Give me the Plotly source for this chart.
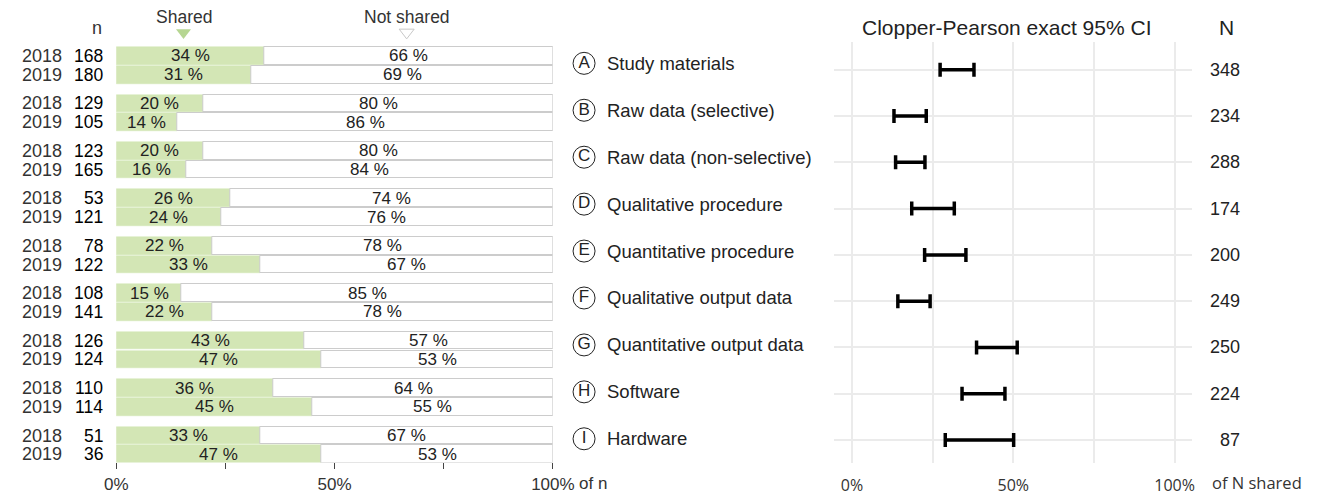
import plotly.graph_objects as go

W, H = 1335, 496

# ---------------- data ----------------
letters = ["A", "B", "C", "D", "E", "F", "G", "H", "I"]
categories = ["Study materials", "Raw data (selective)", "Raw data (non-selective)",
              "Qualitative procedure", "Quantitative procedure", "Qualitative output data",
              "Quantitative output data", "Software", "Hardware"]
years = ["2018", "2019"]
n_2018 = [168, 129, 123, 53, 78, 108, 126, 110, 51]
n_2019 = [180, 105, 165, 121, 122, 141, 124, 114, 36]
shared_2018 = [34, 20, 20, 26, 22, 15, 43, 36, 33]
shared_2019 = [31, 14, 16, 24, 33, 22, 47, 45, 47]
N_total = [348, 234, 288, 174, 200, 249, 250, 224, 87]
ci_low = [27.3, 13.0, 13.5, 18.5, 22.5, 14.2, 38.6, 34.1, 28.9]
ci_high = [37.8, 23.0, 22.6, 31.7, 35.3, 24.2, 51.2, 47.4, 50.1]
tick_vals = [0, 25, 50, 75, 100]
left_ticktext = ["0%", "", "50%", "", "100%"]
right_ticktext = ["0%", "", "50%", "", "100%"]

# ---------------- layout constants ----------------
FONT = "Liberation Sans"
GREEN = "#d3e6b5"
TXT = "#222222"
GROUP_GAP = 2.53         # units between pairs
UNIT_PX = 19.1           # px per unit on left chart
ROW0_PX = 57             # pixel of first bar centre
LEFT_X0, LEFT_X1 = 107, 555
LEFT_BOTTOM_PX = 471

ypos, shared, nvals, ylab = [], [], [], []
for g in range(len(letters)):
    for j, (s, n) in enumerate([(shared_2018[g], n_2018[g]), (shared_2019[g], n_2019[g])]):
        ypos.append(g * GROUP_GAP + j)
        shared.append(s)
        nvals.append(n)
        ylab.append(years[j])
not_shared = [100 - s for s in shared]

fig = go.Figure()

fig.add_trace(go.Bar(
    y=ypos, x=shared, orientation="h", width=0.94,
    marker=dict(color=GREEN, line=dict(color=GREEN, width=0.5)),
    xaxis="x", yaxis="y", showlegend=False, hoverinfo="skip"))
fig.add_trace(go.Bar(
    y=ypos, x=not_shared, orientation="h", width=0.94, base=shared,
    marker=dict(color="white", line=dict(color="#cccccc", width=1)),
    xaxis="x", yaxis="y", showlegend=False, hoverinfo="skip"))

# legend triangles (x in % units of the left axis)
SH_X = (176 - LEFT_X0) / (LEFT_X1 - LEFT_X0) * 100
NS_X = (405 - LEFT_X0) / (LEFT_X1 - LEFT_X0) * 100
TRI_Y = (33 - ROW0_PX) / UNIT_PX
fig.add_trace(go.Scatter(
    x=[SH_X], y=[TRI_Y], mode="markers", xaxis="x", yaxis="y",
    marker=dict(symbol="triangle-down", size=13, color="#b6d692"),
    showlegend=False, hoverinfo="skip", cliponaxis=False))
fig.add_trace(go.Scatter(
    x=[NS_X], y=[TRI_Y], mode="markers", xaxis="x", yaxis="y",
    marker=dict(symbol="triangle-down-open", size=13, color="#c8c8c8", line=dict(width=1)),
    showlegend=False, hoverinfo="skip", cliponaxis=False))


def ann(x, y, text, xref="paper", yref="paper", size=18, color=TXT, xanchor="center",
        family=FONT):
    return dict(x=x, y=y, xref=xref, yref=yref, text=text, showarrow=False,
                xanchor=xanchor, yanchor="middle",
                font=dict(family=family, size=size, color=color))


annotations = []
for y, s, ns, n, yl in zip(ypos, shared, not_shared, nvals, ylab):
    annotations.append(ann(s / 2, y, f"{s} %", "x", "y", 17))
    annotations.append(ann(s + ns / 2, y, f"{ns} %", "x", "y", 17))
    annotations.append(ann(53.5 / W, y, yl, "paper", "y", 18, "#333333", "right"))
    annotations.append(ann(95.5 / W, y, str(n), "paper", "y", 17.5, "#000000", "right"))

annotations += [
    ann(SH_X, 1 - 17 / H, "Shared", "x", "paper", 17.5, "#333333"),
    ann(NS_X, 1 - 17 / H, "Not shared", "x", "paper", 17.5, "#333333"),
    ann(87 / W, 1 - 29 / H, "n", size=18, color="#333333"),
    ann(580 / W, (H - 492) / H, "of n", size=17, color="#333333", xanchor="left"),
]

# middle: circled letters + category names
M_ROW0, M_STEP = 64.5, 47.8
fig.add_trace(go.Scatter(
    x=[0] * len(letters), y=list(range(len(letters))), mode="markers+text",
    text=letters, textposition="middle center",
    textfont=dict(family=FONT, size=17, color=TXT),
    marker=dict(symbol="circle-open", size=22, color="#222222", line=dict(width=1)),
    xaxis="x3", yaxis="y3", showlegend=False, hoverinfo="skip", cliponaxis=False))
for r, c in enumerate(categories):
    annotations.append(ann(608 / W, r, c, "paper", "y3", 18.5, TXT, "left"))

# right: CI error bars
mid = [(lo + hi) / 2 for lo, hi in zip(ci_low, ci_high)]
half = [(hi - lo) / 2 for lo, hi in zip(ci_low, ci_high)]
fig.add_trace(go.Scatter(
    x=mid, y=list(range(len(letters))), mode="markers",
    marker=dict(size=0.1, color="black", opacity=0),
    error_x=dict(type="data", array=half, symmetric=True, color="black", thickness=3.5, width=7),
    xaxis="x2", yaxis="y2", showlegend=False, hoverinfo="skip"))
for r, N in enumerate(N_total):
    annotations.append(ann(1262 / W, r, str(N), "paper", "y2", 18, TXT, "right"))
annotations += [
    ann(1020 / W, 1 - 28 / H, "Clopper-Pearson exact 95% CI", size=21),
    ann(1246 / W, 1 - 28 / H, "N", size=21),
    ann(1229 / W, (H - 491) / H, "of N shared", size=16.5, color="#333333",
        xanchor="left", family="Open Sans"),
]

# axis ranges from pixel layout
left_y_top = -ROW0_PX / UNIT_PX
left_y_bot = (LEFT_BOTTOM_PX - ROW0_PX) / UNIT_PX
R_ROW0, R_STEP, R_TOP, R_BOT = 71, 47.15, 43, 472
right_y_top = (R_TOP - R_ROW0) / R_STEP
right_y_bot = (R_BOT - R_ROW0) / R_STEP
RX0, RX1, RG0, RG1 = 862, 1193, 843, 1211
px_per_pct = (RX1 - RX0) / 100
MID_CX = 587

fig.update_layout(
    width=W, height=H, margin=dict(l=0, r=0, t=0, b=0),
    paper_bgcolor="white", plot_bgcolor="white",
    barmode="overlay", bargap=0,
    font=dict(family=FONT, color=TXT),
    xaxis=dict(domain=[LEFT_X0 / W, LEFT_X1 / W], range=[0, 100], tickvals=tick_vals,
               ticktext=left_ticktext, ticks="outside", ticklen=6, tickwidth=1, tickcolor="#444",
               showgrid=False, zeroline=False, showline=False, anchor="y",
               tickfont=dict(family=FONT, size=17, color="#333")),
    yaxis=dict(domain=[(H - LEFT_BOTTOM_PX) / H, 1], range=[left_y_bot, left_y_top],
               visible=False, anchor="x"),
    xaxis2=dict(domain=[RG0 / W, RG1 / W],
                range=[-(RX0 - RG0) / px_per_pct, 100 + (RG1 - RX1) / px_per_pct],
                tickvals=tick_vals, ticktext=right_ticktext, ticks="", showgrid=True,
                gridcolor="#ebebeb", gridwidth=2, zeroline=False, showline=False, anchor="y2",
                ticklabelstandoff=11,
                tickfont=dict(family="Open Sans", size=16, color="#333")),
    yaxis2=dict(domain=[(H - R_BOT) / H, (H - R_TOP) / H], range=[right_y_bot, right_y_top],
                tickvals=list(range(len(letters))), showticklabels=False, ticks="",
                showgrid=True, gridcolor="#ebebeb", gridwidth=2, zeroline=False,
                showline=False, anchor="x2"),
    xaxis3=dict(domain=[(MID_CX - 10) / W, (MID_CX + 10) / W], range=[-1, 1], visible=False,
                anchor="y3"),
    yaxis3=dict(domain=[0, 1], range=[(H - M_ROW0) / M_STEP, -M_ROW0 / M_STEP],
                visible=False, anchor="x3"),
    annotations=annotations,
)

fig.write_html("out.html", config={"displayModeBar": False},
               post_script="document.body.style.margin='0';")
